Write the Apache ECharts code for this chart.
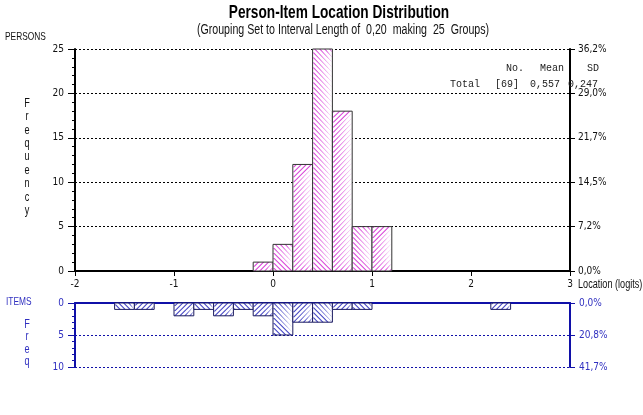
<!DOCTYPE html>
<html>
<head>
<meta charset="utf-8">
<script src="https://cdn.jsdelivr.net/npm/echarts@6/dist/echarts.min.js"></script>
<style>
  html, body { margin: 0; padding: 0; background: #fff; }
  #main { width: 643px; height: 415px; }
</style>
</head>
<body>
<div id="main"></div>
<script>
// bins are 0,20 logits wide, starting at -2
var binWidth = 0.2;
var binOrigin = -2;

// persons (upper histogram)
var personBins = [-0.2, 0, 0.2, 0.4, 0.6, 0.8, 1.0];
var personCounts = [1, 3, 12, 25, 18, 5, 5];
var personPctLabels = ['0,0%', '7,2%', '14,5%', '21,7%', '29,0%', '36,2%'];

// items (lower histogram, hangs down)
var itemBins = [-1.6, -1.4, -1.0, -0.8, -0.6, -0.4, -0.2, 0, 0.2, 0.4, 0.6, 0.8, 2.2];
var itemCounts = [1, 1, 2, 1, 2, 1, 2, 5, 3, 3, 1, 1, 1];
var itemPctLabels = ['0,0%', '20,8%', '41,7%'];

var statsHead = ['No.', 'Mean', 'SD'];
var statsRow = ['Total', '[69]', '0,557', '0,247'];

var FONT = "'Liberation Sans', Arial, sans-serif";
var NARROW = "'DejaVu Sans Condensed', 'Liberation Sans Narrow', sans-serif";
var MONO = "'Liberation Mono', 'DejaVu Sans Mono', monospace";
var SQUEEZE = 0.76;   // the picture's text is squeezed sideways
var BLUE = '#1010a8';
var BLUE_TXT = '#3030c0';
var HATCH = 5;
var THICK = 1.5;

// hatch strips x+y=c ('/') or x-y=c ('\') clipped to the bar, drawn as thin fills
function hatchStrips(x0, y0, x1, y1, dir, color) {
    var out = [];
    var lo, hi, c, xa, xb, ya, yb;
    lo = dir === '/' ? Math.floor((x0 + y0) / HATCH) * HATCH : Math.floor((x0 - y1) / HATCH) * HATCH;
    hi = dir === '/' ? x1 + y1 : x1 - y0;
    for (c = lo; c <= hi; c += HATCH) {
        if (dir === '/') {
            xa = Math.max(x0, c - y1);
            xb = Math.min(x1, c - y0);
            ya = c - xa; yb = c - xb;
        } else {
            xa = Math.max(x0, c + y0);
            xb = Math.min(x1, c + y1);
            ya = xa - c; yb = xb - c;
        }
        if (xb - xa < 0.3) continue;
        out.push({
            type: 'polygon',
            shape: { points: [[xa, ya], [xb, yb], [Math.min(x1, xb + THICK), yb], [Math.min(x1, xa + THICK), ya]] },
            style: { fill: color }
        });
    }
    return out;
}

function histItem(lineColor, stroke) {
    return function (params, api) {
        var start = api.value(0);
        var n = api.value(1);
        var p0 = api.coord([start, 0]);
        var p1 = api.coord([start + binWidth, n]);
        var x0 = Math.min(p0[0], p1[0]), x1 = Math.max(p0[0], p1[0]);
        var y0 = Math.min(p0[1], p1[1]), y1 = Math.max(p0[1], p1[1]);
        var idx = Math.round((start - binOrigin) / binWidth);
        var dir = idx % 2 === 1 ? '/' : '\\';
        var children = [{
            type: 'rect', shape: { x: x0, y: y0, width: x1 - x0, height: y1 - y0 },
            style: { fill: '#fff' }
        }];
        children = children.concat(hatchStrips(x0, y0, x1, y1, dir, lineColor));
        children.push({
            type: 'rect', shape: { x: x0, y: y0, width: x1 - x0, height: y1 - y0 },
            style: { fill: 'none', stroke: stroke, lineWidth: 1 }
        });
        return { type: 'group', children: children };
    };
}

function pairs(xs, ys) {
    var out = [];
    for (var i = 0; i < xs.length; i++) {
        out.push([xs[i], ys[i]]);
    }
    return out;
}

// squeezed text placed by its left / centre / right x
function label(text, x, y, size, color, opts) {
    opts = opts || {};
    return {
        type: 'text', x: x, y: y, scaleX: SQUEEZE, z: 10,
        style: {
            text: text, fill: color,
            font: (opts.bold ? 'bold ' : '') + size + 'px ' + (opts.family || FONT),
            align: opts.align || 'left', verticalAlign: 'middle',
            lineHeight: opts.lineHeight
        }
    };
}

function mono(text, x, y) {
    return {
        type: 'text', x: x, y: y, z: 10,
        style: { text: text, fill: '#222', font: '10px ' + MONO, align: 'left', verticalAlign: 'middle' }
    };
}

var myChart = echarts.init(document.getElementById('main'));

var option = {
    backgroundColor: '#fff',
    animation: false,
    grid: [
        { left: 75, right: 73, top: 49, height: 222 },
        { left: 75, right: 73, top: 303, height: 64 }
    ],
    xAxis: [{
        gridIndex: 0,
        type: 'value',
        min: -2, max: 3, interval: 1,
        axisLine: { onZero: false, lineStyle: { color: '#000', width: 2 } },
        axisTick: { length: 5, lineStyle: { color: '#000' } },
        axisLabel: { margin: 8, color: '#111', fontFamily: NARROW, fontSize: 10 },
        splitLine: { show: false }
    }, {
        gridIndex: 1,
        type: 'value',
        position: 'top',
        min: -2, max: 3, interval: 1,
        axisLine: { onZero: false, lineStyle: { color: BLUE, width: 2 } },
        axisTick: { show: false },
        axisLabel: { show: false },
        splitLine: { show: false }
    }],
    yAxis: [{
        gridIndex: 0,
        type: 'value',
        min: 0, max: 25, interval: 5,
        axisLine: { show: true, onZero: false, lineStyle: { color: '#000', width: 2 } },
        axisTick: { length: 7, lineStyle: { color: '#000' } },
        minorTick: { show: true, splitNumber: 5, length: 3, lineStyle: { color: '#000' } },
        axisLabel: { margin: 11, color: '#111', fontFamily: NARROW, fontSize: 10 },
        splitLine: { lineStyle: { color: '#000', type: [2, 2], width: 1 } }
    }, {
        gridIndex: 0,
        type: 'value',
        position: 'right',
        min: 0, max: 25, interval: 5,
        axisLine: { show: true, onZero: false, lineStyle: { color: '#000', width: 2 } },
        axisTick: { length: 5, lineStyle: { color: '#000' } },
        axisLabel: {
            margin: 8, color: '#111', fontFamily: NARROW, fontSize: 10,
            formatter: function (v) { return personPctLabels[Math.round(v / 5)]; }
        },
        splitLine: { show: false }
    }, {
        gridIndex: 1,
        type: 'value',
        inverse: true,
        min: 0, max: 10, interval: 5,
        axisLine: { show: true, onZero: false, lineStyle: { color: BLUE, width: 2 } },
        axisTick: { length: 7, lineStyle: { color: BLUE } },
        minorTick: { show: true, splitNumber: 5, length: 3, lineStyle: { color: BLUE } },
        axisLabel: { margin: 11, color: BLUE_TXT, fontFamily: NARROW, fontSize: 10 },
        splitLine: { lineStyle: { color: BLUE, type: [2, 2], width: 1 } }
    }, {
        gridIndex: 1,
        type: 'value',
        inverse: true,
        position: 'right',
        min: 0, max: 10, interval: 5,
        axisLine: { show: true, onZero: false, lineStyle: { color: BLUE, width: 2 } },
        axisTick: { length: 5, lineStyle: { color: BLUE } },
        axisLabel: {
            margin: 9, color: BLUE_TXT, fontFamily: NARROW, fontSize: 10,
            formatter: function (v) { return itemPctLabels[Math.round(v / 5)]; }
        },
        splitLine: { show: false }
    }],
    series: [{
        name: 'Persons',
        type: 'custom',
        xAxisIndex: 0,
        yAxisIndex: 0,
        renderItem: histItem('#d845d8', '#333'),
        data: pairs(personBins, personCounts),
        z: 3
    }, {
        name: 'Items',
        type: 'custom',
        xAxisIndex: 1,
        yAxisIndex: 2,
        renderItem: histItem('#4444c4', '#1a1a60'),
        data: pairs(itemBins, itemCounts),
        z: 3
    }],
    graphic: [
        label('Person-Item Location Distribution', 339, 13, 18, '#000', { bold: true, align: 'center' }),
        label('(Grouping Set to Interval Length of  0,20  making  25  Groups)', 343, 30, 14, '#111', { align: 'center' }),
        label('PERSONS', 5, 37, 11, '#111'),
        label('F\nr\ne\nq\nu\ne\nn\nc\ny', 27, 157, 12, '#111', { align: 'center', lineHeight: 13.4 }),
        label('ITEMS', 6, 302, 11, BLUE_TXT),
        label('F\nr\ne\nq', 27, 343, 12, BLUE_TXT, { align: 'center', lineHeight: 12.5 }),
        label('Location (logits)', 578, 285, 12, '#111'),
        mono(statsHead[0], 506, 68),
        mono(statsHead[1], 540, 68),
        mono(statsHead[2], 587, 68),
        mono(statsRow[0], 450, 84),
        mono(statsRow[1], 495, 84),
        mono(statsRow[2], 530, 84),
        mono(statsRow[3], 568, 84)
    ]
};

if (option && typeof option === "object") {
    myChart.setOption(option, true);
}
</script>
</body>
</html>
